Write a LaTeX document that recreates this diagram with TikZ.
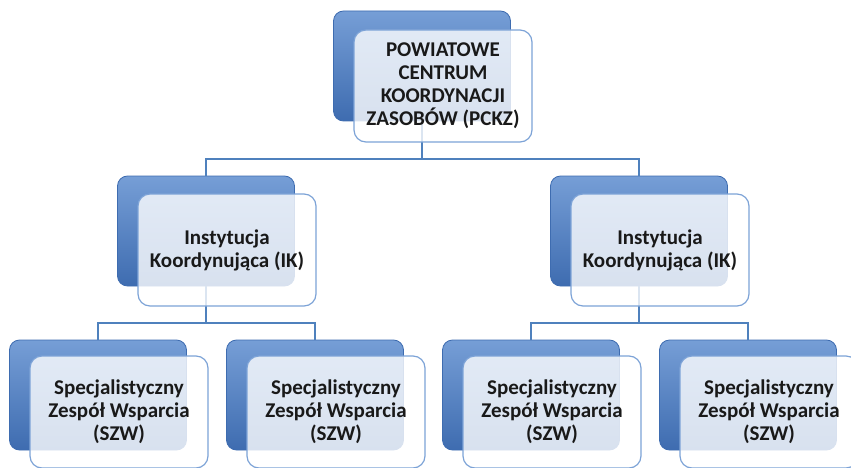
\documentclass[tikz,border=0pt]{standalone}
\usepackage{fontspec}
\setmainfont{Carlito}
\definecolor{accblue}{RGB}{79,129,189}
\definecolor{backtop}{RGB}{118,158,214}
\definecolor{backbot}{RGB}{62,108,176}
\definecolor{frontline}{RGB}{125,163,215}
\definecolor{txt}{RGB}{25,25,25}
\begin{document}
\begin{tikzpicture} [x=1pt,y=-1pt,
    back/.style={rectangle,rounded corners=10pt,minimum width=177pt,minimum height=110pt,
        draw=backbot,line width=.8pt,top color=backtop,bottom color=backbot},
    front/.style={rectangle,rounded corners=12pt,minimum width=178pt,minimum height=112pt,
        draw=frontline,line width=1.2pt,fill=white,fill opacity=.8,text opacity=1,
        align=center,text=txt,font=\fontsize{21}{23}\selectfont\bfseries},
    conn/.style={color=accblue,line width=1.6pt}]
\useasboundingbox (0,0) rectangle (851,468);
\coordinate (bus1) at (0,159);
\coordinate (bus2) at (0,323);
%back boxes
        \node[back] (pckzb) at (422,66) {};
        \node[back] (ik1b) at (206,231) {};
        \node[back] (ik2b) at (639,231) {};
        \node[back] (szw1b) at (98,395) {};
        \node[back] (szw2b) at (315,395) {};
        \node[back] (szw3b) at (531,395) {};
        \node[back] (szw4b) at (748,395) {};
%connectors
        \draw [conn] (pckzb.south) -- (pckzb.south |- bus1) -| (ik1b.north);
        \draw [conn] (pckzb.south |- bus1) -| (ik2b.north);
        \draw [conn] (ik1b.south) -- (ik1b.south |- bus2) -| (szw1b.north);
        \draw [conn] (ik1b.south |- bus2) -| (szw2b.north);
        \draw [conn] (ik2b.south) -- (ik2b.south |- bus2) -| (szw3b.north);
        \draw [conn] (ik2b.south |- bus2) -| (szw4b.north);
%front boxes
        \node[front] (pckzf) at ([shift={(21,20)}]pckzb) {POWIATOWE\\CENTRUM\\KOORDYNACJI\\ZASOBÓW (PCKZ)};
        \node[front] (ik1f) at ([shift={(21,19)}]ik1b) {Instytucja\\Koordynująca (IK)};
        \node[front] (ik2f) at ([shift={(21,19)}]ik2b) {Instytucja\\Koordynująca (IK)};
        \node[front] (szw1f) at ([shift={(21,17)}]szw1b) {Specjalistyczny\\Zespół Wsparcia\\(SZW)};
        \node[front] (szw2f) at ([shift={(21,17)}]szw2b) {Specjalistyczny\\Zespół Wsparcia\\(SZW)};
        \node[front] (szw3f) at ([shift={(21,17)}]szw3b) {Specjalistyczny\\Zespół Wsparcia\\(SZW)};
        \node[front] (szw4f) at ([shift={(21,17)}]szw4b) {Specjalistyczny\\Zespół Wsparcia\\(SZW)};
\end{tikzpicture}
\end{document}
